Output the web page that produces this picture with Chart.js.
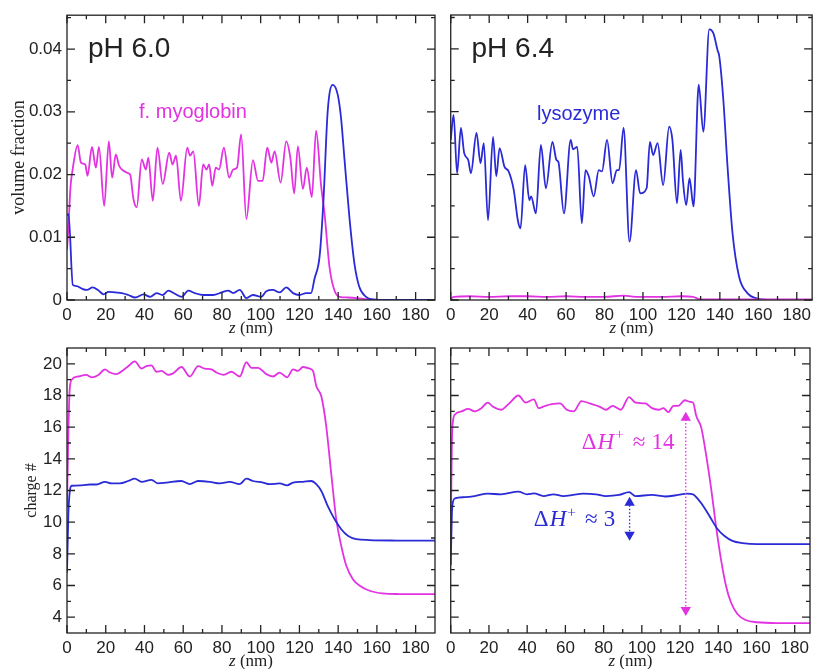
<!DOCTYPE html>
<html>
<head>
<meta charset="utf-8">
<script src="https://cdn.jsdelivr.net/npm/chart.js@4.4.1/dist/chart.umd.min.js"></script>
<style>
  body { margin: 0; background: #fff; }
  canvas { position: absolute; }
</style>
</head>
<body>
<canvas id="volLow" width="441" height="345" style="left:0;top:0"></canvas>
<canvas id="volHigh" width="375" height="345" style="left:441px;top:0"></canvas>
<canvas id="chgLow" width="441" height="344" style="left:0;top:325px"></canvas>
<canvas id="chgHigh" width="375" height="344" style="left:441px;top:325px"></canvas>
<script>
// Tick labels ---

const zMajors = [0, 20, 40, 60, 80, 100, 120, 140, 160, 180];
const volMajors = [0, 0.01, 0.02, 0.03, 0.04];
const chargeMajors = [4, 6, 8, 10, 12, 14, 16, 18, 20];

// Series, [z (nm), value] ---

const myoVol60 = [[0,0.008],[0.8,0.012],[1.8,0.018],[3,0.021],[5.5,0.0247],[7.2,0.0219],[9.4,0.0216],[10.6,0.0198],[12.9,0.0244],[14.9,0.0211],[16.5,0.0244],[19.2,0.015],[21.6,0.0253],[23.3,0.0195],[25.2,0.0232],[26.9,0.0214],[29.2,0.0206],[30.9,0.0203],[32.6,0.02],[34.3,0.0161],[36,0.0148],[38.6,0.0224],[40.7,0.0208],[42,0.0227],[44.3,0.0158],[46.7,0.0243],[49.4,0.0185],[52.8,0.0235],[54.5,0.0216],[56.3,0.023],[58.8,0.0158],[62.1,0.0243],[63.5,0.023],[65.2,0.0237],[68.1,0.015],[70.3,0.0216],[72,0.0208],[73.4,0.0216],[75,0.0182],[76.8,0.0211],[78.5,0.0208],[81,0.0243],[83.7,0.0195],[85.8,0.0208],[87.8,0.0211],[89.9,0.0264],[92.6,0.0129],[96,0.0223],[98.6,0.019],[101,0.019],[103.4,0.0243],[105.5,0.0219],[107.2,0.0237],[110.3,0.0187],[113.2,0.0253],[115.3,0.0227],[117.3,0.017],[119.2,0.0245],[121.8,0.0177],[123.8,0.0211],[126.4,0.0164],[128.6,0.027],[131.2,0.0182],[133,0.0137],[135.5,0.0053],[138,0.0016],[140.7,0.0005],[145,0.0004],[150,0.0003],[155,0.0001],[170,0],[190,0]];
const lysVol60 = [[0,0.0135],[0.8,0.0137],[3,0.0024],[5,0.0022],[7.7,0.0018],[10.3,0.0016],[13.2,0.002],[16.3,0.0015],[18.9,0.0009],[21.4,0.0013],[24.9,0.0012],[28.3,0.0011],[31.7,0.0008],[35.2,0.0004],[39.5,0.0009],[42.9,0.0005],[46.3,0.0011],[49.3,0.0008],[52.3,0.0015],[55.7,0.001],[59.2,0.0005],[62.6,0.0015],[66,0.0011],[70.3,0.0008],[75.4,0.0008],[79.8,0.0012],[83.2,0.0015],[85.8,0.0011],[89.2,0.0016],[92.6,0.0003],[96,0.0008],[100.3,0.0005],[102.9,0.0014],[106.3,0.0016],[109.8,0.0012],[113.2,0.002],[116.7,0.0011],[120,0.0008],[123.5,0.0011],[126,0.0011],[127.8,0.0034],[130.4,0.0069],[132.4,0.0158],[134.6,0.0301],[137.2,0.0343],[139.8,0.0327],[141.5,0.029],[143.2,0.0227],[145.8,0.0132],[148.4,0.0058],[150.9,0.0021],[154.4,0.0005],[157.8,0.0001],[165,0],[190,0]];
const myoVol64 = [[0,0.0002],[1.5,0.0005],[10,0.0006],[20,0.0005],[30,0.0006],[40,0.0006],[50,0.0005],[60,0.0006],[70,0.0005],[80,0.0005],[90,0.0007],[96,0.0005],[110,0.0005],[120,0.0006],[126,0.0005],[130,0.0001],[140,0.0001],[190,0.0001]];
const lysVol64 = [[0,0.0255],[1.5,0.0295],[3.3,0.0202],[5.3,0.0274],[7,0.0234],[9.1,0.0223],[10.5,0.0202],[13.4,0.0266],[15.5,0.0218],[17.2,0.025],[19.4,0.0127],[22,0.026],[23.7,0.0197],[25.4,0.0242],[28,0.0212],[30.1,0.0205],[32.8,0.0175],[34.9,0.0127],[36.3,0.0114],[38.7,0.0215],[40.9,0.0159],[41.8,0.0165],[44.3,0.0138],[46.9,0.0247],[49.5,0.0178],[52.9,0.0252],[55,0.0223],[56,0.022],[58.9,0.0138],[62.4,0.0255],[63.6,0.024],[65.8,0.0244],[68.2,0.0122],[70.1,0.0207],[71.8,0.0197],[74.4,0.0165],[77,0.0207],[78.7,0.0205],[81.3,0.0255],[84.2,0.0186],[86.4,0.0207],[87.6,0.0207],[89.9,0.0274],[93,0.0093],[96.4,0.0207],[98.5,0.017],[101.9,0.0178],[103.6,0.0252],[105.3,0.0231],[107.6,0.025],[110.5,0.0183],[113.6,0.0276],[115.3,0.0255],[117.7,0.0154],[119.6,0.0239],[120.8,0.019],[122.5,0.0151],[124.2,0.0194],[126.3,0.0149],[129,0.0343],[131.4,0.0268],[134.5,0.0431],[136.6,0.0425],[138.8,0.0398],[139.7,0.0388],[141.8,0.0319],[144,0.0212],[146.6,0.0106],[150,0.0037],[154.3,0.0011],[158.6,0.0003],[165,0],[190,0]];

const myoCharge60 = [[0,11],[0.6,15],[1.3,18.2],[2.4,19],[5.8,19.2],[9.8,19.3],[12.7,19.15],[16.2,19.3],[19.6,19.65],[22.2,19.45],[25.6,19.35],[29,19.6],[31.6,19.85],[35,20.15],[38.5,19.7],[41,19.85],[43.6,19.9],[46.2,19.5],[48.8,19.55],[52.2,19.3],[54.8,19.4],[59.1,19.8],[63.4,19.2],[67.7,19.85],[71.1,19.7],[74.6,19.65],[77.1,19.45],[80.9,19.3],[84.9,19.5],[89.2,19.2],[92.6,20.1],[95.2,19.75],[98.6,19.75],[102.9,19.35],[106.4,19.2],[109.8,19.45],[113.6,19.15],[116.7,19.65],[119.2,19.55],[121.8,19.8],[125.3,19.7],[127,19.55],[128.7,18.6],[131.3,17.95],[133.8,16.1],[136.4,13.1],[139,10.2],[141.6,8.5],[144.2,7.25],[147.6,6.4],[151,6],[156.2,5.67],[163,5.5],[171.6,5.46],[190,5.45]];
const lysCharge60 = [[0,6.8],[0.7,10.5],[1.5,12],[2.4,12.3],[7.6,12.33],[11.9,12.38],[15.3,12.38],[19.6,12.55],[23,12.45],[27.3,12.45],[31.6,12.6],[35,12.75],[38.5,12.55],[43.6,12.67],[47,12.45],[51.3,12.5],[59,12.6],[63.4,12.4],[67.7,12.6],[73.7,12.55],[78.9,12.45],[84,12.55],[89.2,12.4],[92.6,12.75],[96,12.6],[101.2,12.5],[104.6,12.4],[109.8,12.45],[113.6,12.33],[116.7,12.5],[121.8,12.55],[126.1,12.6],[128.7,12.4],[131.3,11.97],[134.7,11],[138.1,10.2],[141.6,9.55],[145,9.14],[149.3,8.93],[156.2,8.87],[170,8.84],[190,8.83]];
const myoCharge64 = [[0,9],[0.6,15],[1.2,16.4],[2.2,16.8],[5.7,17],[9.1,17.15],[12.5,17],[16,17.2],[19.4,17.55],[22,17.3],[26.3,17.1],[30.6,17.5],[35.4,18],[39.2,17.55],[43.5,17.75],[46,17.2],[49.5,17.35],[52.9,17.45],[57.2,17.5],[60.7,17.1],[64.4,17],[68.4,17.65],[72.7,17.5],[77.8,17.3],[81.3,17.1],[84.7,17.35],[89,17.1],[93.3,17.9],[96.7,17.55],[101.9,17.5],[105.3,17.2],[108.8,17.1],[111.3,17.2],[113.9,16.95],[116.5,17.35],[119.1,17.35],[122.5,17.7],[125.1,17.6],[126.8,17.55],[128.5,16.7],[131.1,15.97],[133.7,14.2],[136.3,12.1],[138.8,9.77],[141.4,7.67],[144,6],[146.6,4.94],[150,4.2],[154.3,3.82],[160.3,3.68],[170.6,3.63],[190,3.63]];
const lysCharge64 = [[0,7.3],[0.6,10.5],[1.2,11.3],[2.2,11.5],[7.4,11.58],[12.5,11.65],[19.4,11.8],[26.3,11.76],[35.4,11.93],[40,11.76],[43.5,11.82],[48.6,11.65],[53.8,11.76],[58.9,11.65],[64.1,11.72],[69.2,11.8],[76,11.76],[81.2,11.65],[88.1,11.72],[93.3,11.9],[96.7,11.65],[105.3,11.72],[112.2,11.62],[119.1,11.72],[123.4,11.8],[126.8,11.76],[129.4,11.45],[132.8,10.9],[136.3,10.2],[139.7,9.55],[143.1,9.14],[147.4,8.82],[152.6,8.68],[160.3,8.61],[190,8.61]];

// Delta H+ arrows, [z, charge] at both heads
const myoShift = [[123, 4.45], [123, 16.6]];
const lysShift = [[93.6, 9.2], [93.6, 11.22]];

// Style ---

const MAGENTA = "#e232e2";
const BLUE = "#2a2ad6";
const INK = "#222";
const SANS = "'Liberation Sans', Arial, sans-serif";
const SERIF = "'Liberation Serif', 'Times New Roman', serif";
const TICK_FONT = { family: SANS, size: 17 };

function tickSet(majors, min, max) {
  const step = majors[1] - majors[0];
  const minors = [majors[0] - step / 2, ...majors.map((v) => v + step / 2)]
    .filter((v) => v > min && v < max);
  return [...majors, ...minors].sort((a, b) => a - b);
}

function curve(points, color) {
  return {
    data: points.map(([x, y]) => ({ x, y })),
    borderColor: color,
    borderWidth: 1.8,
    pointRadius: 0,
    fill: false,
    cubicInterpolationMode: "monotone",
  };
}

function arrow(points, color) {
  return {
    data: points.map(([x, y]) => ({ x, y })),
    borderColor: color,
    borderWidth: 1.3,
    borderDash: [1.5, 2],
    pointStyle: "triangle",
    pointRadius: 6,
    pointBorderWidth: 0,
    pointBackgroundColor: color,
    pointRotation: (c) => (c.dataIndex === 0 ? 180 : 0),
    fill: false,
  };
}

function drawParts(ctx, note, px, py) {
  let cx = px;
  note.parts.forEach((p) => {
    const size = p.sup ? note.size * 0.68 : note.size;
    ctx.font = `${p.italic ? "italic " : ""}${size}px ${note.family}`;
    cx += p.gap || 0;
    ctx.fillText(p.text, cx, py - (p.sup ? note.size * 0.42 : 0));
    cx += ctx.measureText(p.text).width;
  });
}

// Frame, inward ticks, x title and notes ---

const framePlugin = {
  id: "frame",
  afterDatasetsDraw(chart, _args, opts) {
    const { ctx, chartArea: a, scales: { x, y } } = chart;

    ctx.save();
    ctx.strokeStyle = INK;
    ctx.lineWidth = 1.3;
    ctx.strokeRect(a.left, a.top, a.right - a.left, a.bottom - a.top);

    ctx.beginPath();
    x.ticks.forEach((t) => {
      const px = x.getPixelForValue(t.value);
      const len = zMajors.includes(t.value) ? 8 : 4;
      ctx.moveTo(px, a.bottom);
      ctx.lineTo(px, a.bottom - len);
      ctx.moveTo(px, a.top);
      ctx.lineTo(px, a.top + len);
    });
    y.ticks.forEach((t) => {
      const py = y.getPixelForValue(t.value);
      const len = opts.yMajors.includes(t.value) ? 8 : 4;
      ctx.moveTo(a.left, py);
      ctx.lineTo(a.left + len, py);
      ctx.moveTo(a.right, py);
      ctx.lineTo(a.right - len, py);
    });
    ctx.stroke();

    // z (nm), with an italic z
    ctx.fillStyle = INK;
    ctx.textBaseline = "middle";
    ctx.font = `italic 17px ${SERIF}`;
    const zw = ctx.measureText("z").width;
    ctx.font = `17px ${SERIF}`;
    const rest = " (nm)";
    const cx = (a.left + a.right) / 2 - (zw + ctx.measureText(rest).width) / 2;
    ctx.fillText(rest, cx + zw, a.bottom + 29);
    ctx.font = `italic 17px ${SERIF}`;
    ctx.fillText("z", cx, a.bottom + 29);

    ctx.textBaseline = "alphabetic";
    opts.notes.forEach((note) => {
      ctx.fillStyle = note.color;
      drawParts(ctx, note, x.getPixelForValue(note.z), y.getPixelForValue(note.v));
    });
    ctx.restore();
  },
};

function panel(id, cfg) {
  const showY = cfg.yWidth > 20;

  return new Chart(document.getElementById(id), {
    type: "line",
    data: { datasets: cfg.datasets },
    plugins: [framePlugin],
    options: {
      responsive: false,
      animation: false,
      events: [],
      layout: { padding: { top: cfg.padTop, right: cfg.padRight, left: 0, bottom: 0 } },
      plugins: {
        legend: { display: false },
        tooltip: { enabled: false },
        frame: { yMajors: cfg.yMajors, notes: cfg.notes },
      },
      scales: {
        x: {
          type: "linear",
          min: 0,
          max: cfg.maxZ,
          border: { display: false },
          grid: { display: false, drawTicks: false },
          afterBuildTicks: (s) => {
            s.ticks = tickSet(zMajors, 0, cfg.maxZ).map((value) => ({ value }));
          },
          afterFit: (s) => {
            s.height = cfg.xHeight;
          },
          ticks: {
            autoSkip: false,
            maxRotation: 0,
            padding: 5,
            color: INK,
            font: TICK_FONT,
            callback: (v) => (zMajors.includes(v) ? String(v) : ""),
          },
        },
        y: {
          type: "linear",
          min: cfg.minY,
          max: cfg.maxY,
          border: { display: false },
          grid: { display: false, drawTicks: false },
          afterBuildTicks: (s) => {
            s.ticks = tickSet(cfg.yMajors, cfg.minY, cfg.maxY).map((value) => ({ value }));
          },
          afterFit: (s) => {
            s.width = cfg.yWidth;
          },
          ticks: {
            display: showY,
            autoSkip: false,
            padding: 5,
            color: INK,
            font: TICK_FONT,
            callback: (v) => (cfg.yMajors.includes(v) ? String(v) : ""),
          },
          title: {
            display: !!cfg.yTitle,
            text: cfg.yTitle,
            color: INK,
            font: { family: SERIF, size: cfg.yTitleSize },
            padding: { top: cfg.yTitlePad, bottom: 0 },
          },
        },
      },
    },
  });
}

const dhParts = (n) => [
  { text: "\u0394" },
  { text: "H", italic: true, gap: 1 },
  { text: "+", sup: true, gap: 1 },
  { text: "\u2248", gap: 9 },
  { text: n, gap: 6 },
];

panel("volLow", {
  datasets: [curve(lysVol60, BLUE), curve(myoVol60, MAGENTA)],
  maxZ: 190, minY: 0, maxY: 0.0454, yMajors: volMajors,
  padTop: 15, padRight: 6, xHeight: 45, yWidth: 67,
  yTitle: "volume fraction", yTitleSize: 18, yTitlePad: 8,
  notes: [
    { parts: [{ text: "pH 6.0" }], z: 10.8, v: 0.0387, color: INK, size: 28, family: SANS },
    { parts: [{ text: "f. myoglobin" }], z: 37.2, v: 0.029, color: MAGENTA, size: 20, family: SANS },
  ],
});

panel("volHigh", {
  datasets: [curve(myoVol64, MAGENTA), curve(lysVol64, BLUE)],
  maxZ: 188, minY: 0, maxY: 0.0454, yMajors: volMajors,
  padTop: 15, padRight: 3, xHeight: 45, yWidth: 8,
  notes: [
    { parts: [{ text: "pH 6.4" }], z: 10.8, v: 0.0387, color: INK, size: 28, family: SANS },
    { parts: [{ text: "lysozyme" }], z: 44.9, v: 0.0287, color: BLUE, size: 20, family: SANS },
  ],
});

panel("chgLow", {
  datasets: [curve(lysCharge60, BLUE), curve(myoCharge60, MAGENTA)],
  maxZ: 190, minY: 3, maxY: 21, yMajors: chargeMajors,
  padTop: 23, padRight: 6, xHeight: 36, yWidth: 67,
  yTitle: "charge #", yTitleSize: 16, yTitlePad: 22,
  notes: [],
});

panel("chgHigh", {
  datasets: [
    arrow(myoShift, MAGENTA),
    arrow(lysShift, BLUE),
    curve(lysCharge64, BLUE),
    curve(myoCharge64, MAGENTA),
  ],
  maxZ: 188, minY: 3, maxY: 21, yMajors: chargeMajors,
  padTop: 23, padRight: 3, xHeight: 36, yWidth: 8,
  notes: [
    { parts: dhParts("14"), z: 68.5, v: 14.62, color: MAGENTA, size: 23, family: SERIF },
    { parts: dhParts("3"), z: 43.5, v: 9.74, color: BLUE, size: 23, family: SERIF },
  ],
});
</script>
</body>
</html>
